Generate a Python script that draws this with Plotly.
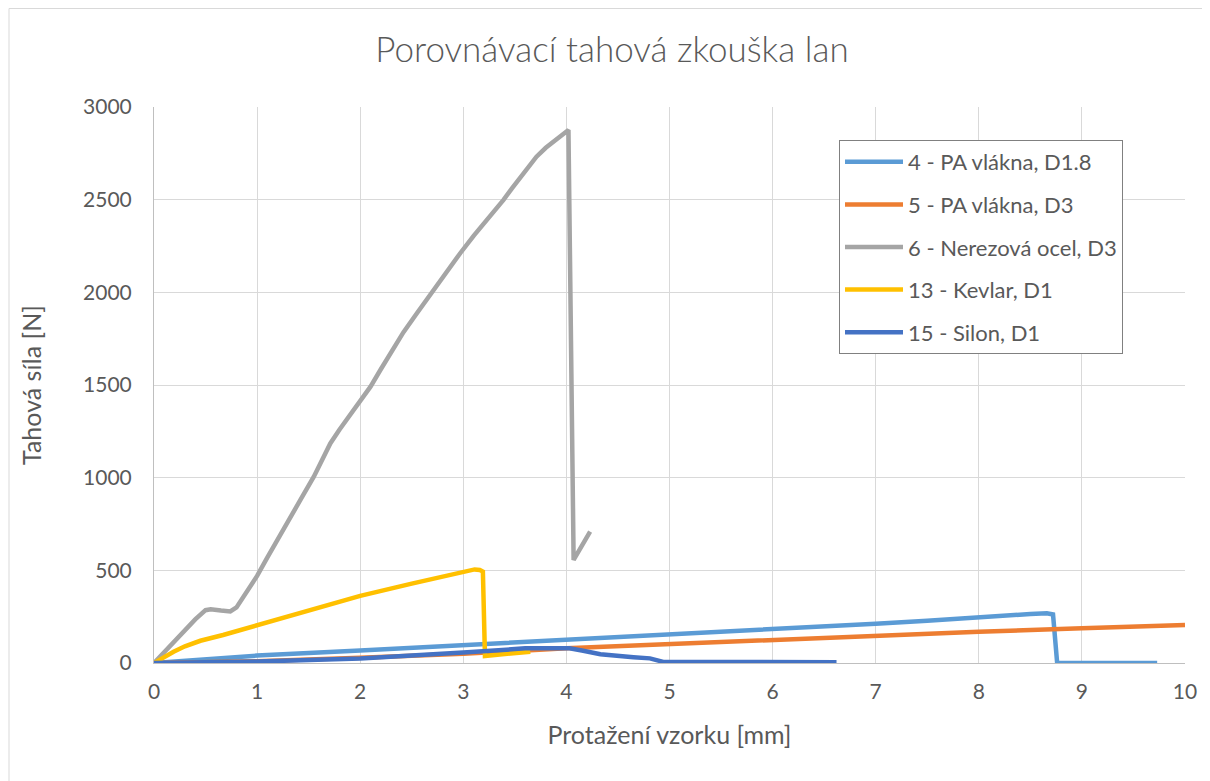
import plotly.graph_objects as go

# ---- data ----
names = ["4 - PA vlákna, D1.8", "5 - PA vlákna, D3", "6 - Nerezová ocel, D3",
         "13 - Kevlar, D1", "15 - Silon, D1"]
colors = ["#5B9BD5", "#ED7D31", "#A5A5A5", "#FFC000", "#4472C4"]

pa18_x = [0, 0.5, 1, 2, 3, 4, 5, 6, 7, 7.5, 8, 8.5, 8.66, 8.72, 8.76, 9.73]
pa18_y = [0, 22, 40, 68, 96, 124, 151, 180, 212, 228, 248, 264, 268, 262, 0, 0]

pa3_x = [0, 1, 2, 3, 4, 5, 6, 7, 8, 9, 10]
pa3_y = [0, 10, 28, 50, 79, 102, 124, 147, 169, 187, 205]

steel_x = [0, 0.1, 0.2, 0.3, 0.4, 0.5, 0.55, 0.65, 0.74, 0.8, 0.9, 1.0, 1.1, 1.2,
           1.3, 1.42, 1.55, 1.71, 1.8, 1.9, 2.0, 2.1, 2.2, 2.3, 2.42, 2.55, 2.71,
           2.85, 2.97, 3.1, 3.2, 3.3, 3.39, 3.47, 3.55, 3.63, 3.71, 3.8, 3.87,
           3.95, 4.02, 4.07, 4.23]
steel_y = [0, 60, 120, 180, 235, 285, 290, 283, 278, 300, 380, 470, 570, 670,
           770, 880, 1005, 1185, 1260, 1340, 1415, 1491, 1585, 1680, 1785, 1887, 2013,
           2120, 2211, 2305, 2370, 2440, 2499, 2560, 2620, 2680, 2732, 2780, 2813,
           2845, 2876, 556, 709]

kevlar_x = [0, 0.1, 0.19, 0.3, 0.45, 0.67, 0.85, 1.0, 1.5, 2.0, 2.5, 3.0, 3.11,
            3.16, 3.19, 3.21, 3.4, 3.65]
kevlar_y = [0, 35, 61, 90, 120, 151, 180, 205, 285, 362, 428, 487, 505,
            502, 493, 38, 48, 61]

silon_x = [0, 1, 2, 2.5, 3, 3.6, 4.03, 4.15, 4.33, 4.65, 4.81, 4.94, 5.5, 6, 6.62]
silon_y = [0, 8, 24, 38, 56, 79, 79, 67, 47, 31, 25, 6, 5, 5, 4]

x_ticks = [0, 1, 2, 3, 4, 5, 6, 7, 8, 9, 10]
y_ticks = [0, 500, 1000, 1500, 2000, 2500, 3000]

series = [(pa18_x, pa18_y), (pa3_x, pa3_y), (steel_x, steel_y),
          (kevlar_x, kevlar_y), (silon_x, silon_y)]

FONT = "Lato"
TXT = "#595959"

fig = go.Figure()
for i, ((xs, ys), nm, c) in enumerate(zip(series, names, colors)):
    fig.add_trace(go.Scatter(x=xs, y=ys, mode="lines", name=nm,
                             legendgroup=f"g{i}",
                             line=dict(color=c, width=4.5)))

OFF = 8  # page body margin
W, H = 1210 - OFF, 781 - OFF
L, R, T, B = 154 - OFF, 25, 107 - OFF, 118
pw, ph = W - L - R, H - T - B


def px_x(px):
    return (px - OFF - L) / pw


def px_y(py):
    return (OFF + T + ph - py) / ph


fig.update_layout(
    width=W, height=H,
    margin=dict(l=L, r=R, t=T, b=B),
    paper_bgcolor="white", plot_bgcolor="white",
    font=dict(family=FONT, size=21, color=TXT),
    title=dict(text="Porovnávací tahová zkouška lan", x=(612 - OFF) / W, xref="container",
               xanchor="center", y=1 - (50 - OFF) / H, yref="container", yanchor="middle",
               font=dict(family=FONT, size=35, color=TXT, weight=300)),
    xaxis=dict(range=[0, 10], tickvals=x_ticks, showgrid=True, gridcolor="#D9D9D9",
               gridwidth=1, showline=True, linecolor="#BFBFBF", linewidth=1,
               zeroline=False, ticks="", ticklabelstandoff=10,
               title=dict(text="Protažení vzorku [mm]", standoff=24,
                          font=dict(family=FONT, size=25, color=TXT))),
    yaxis=dict(range=[0, 3000], tickvals=y_ticks, showgrid=True, gridcolor="#D9D9D9",
               gridwidth=1, showline=True, linecolor="#BFBFBF", linewidth=1,
               zeroline=False, ticks="", ticklabelstandoff=17,
               title=dict(text="Tahová síla [N]", standoff=34,
                          font=dict(family=FONT, size=25, color=TXT))),
    legend=dict(x=px_x(839), y=px_y(140), xanchor="left", yanchor="top",
                bgcolor="white", bordercolor="#808080", borderwidth=1,
                font=dict(family=FONT, size=22, color=TXT),
                traceorder="grouped", tracegroupgap=11, itemwidth=58,
                entrywidth=285, entrywidthmode="pixels"),
    showlegend=True,
)

# thin outer chart border (left and top edges visible in the reference)
fig.add_shape(type="line", xref="paper", yref="paper",
              x0=px_x(9), x1=px_x(9), y0=px_y(8.5), y1=px_y(800),
              line=dict(color="#D9D9D9", width=1))
fig.add_shape(type="line", xref="paper", yref="paper",
              x0=px_x(9), x1=px_x(1220), y0=px_y(8.5), y1=px_y(8.5),
              line=dict(color="#D9D9D9", width=1))

fig.write_html("out.html")
